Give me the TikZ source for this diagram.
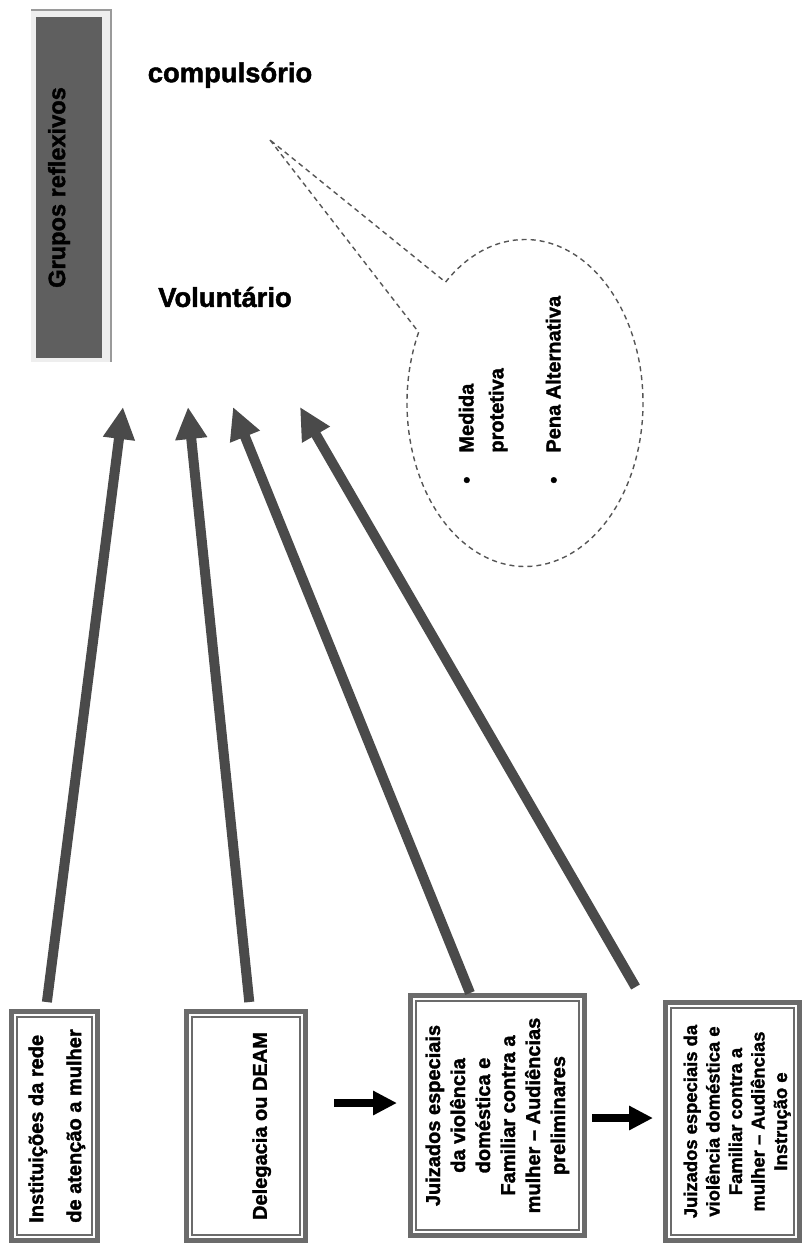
\documentclass[tikz,border=0pt]{standalone}
\usepackage{fontspec}
\setmainfont{Liberation Sans}[BoldFeatures={FakeBold=1.6}]
\usetikzlibrary{arrows.meta,shapes.callouts}

\definecolor{darkfill}{HTML}{5F5F5F}
\definecolor{lightframe}{HTML}{EEEEEE}
\definecolor{shadegray}{HTML}{9A9A9A}
\definecolor{arrowgray}{HTML}{4A4A4A}
\definecolor{boxgray}{HTML}{6B6B6B}
\definecolor{dashgray}{HTML}{555555}

% rotated block of lines: alignment, font size, line skip, lines
\newcommand{\vtext}[4]{\rotatebox{90}{\fontsize{#2}{#3}\selectfont\begin{tabular}{@{}#1@{}}#4\end{tabular}}}

\tikzset{
  casebox/.style={draw=boxgray, line width=2.5pt, fill=white, inner sep=0pt, font=\bfseries},
  bigarrow/.style={arrowgray, line width=5pt, -{Triangle[length=16pt,width=15pt]}},
  smallarrow/.style={black, line width=3.8pt, -{Triangle[length=12pt,width=11.5pt]}},
  heading/.style={font=\fontsize{13.7}{16}\selectfont\bfseries},
  callbubble/.style={ellipse callout, draw=dashgray, line width=0.7pt,
    dash pattern=on 2.5pt off 2pt, minimum width=118pt, minimum height=163.5pt,
    callout pointer arc=22},
}

\begin{document}
\begin{tikzpicture}[x=0.5pt,y=-0.5pt]
\useasboundingbox (0,0) rectangle (804,1245);

% title bar
\fill[lightframe] (31,10) rectangle (111,362);
\draw[shadegray, line width=1pt] (31,10.5) -- (110.5,10.5) -- (110.5,362);
\node[fill=darkfill, minimum width=33pt, minimum height=170.5pt, inner sep=0pt,
  font=\fontsize{11.8}{14}\selectfont\bfseries] (grupos) at (69,187.5)
  {\rotatebox{90}{Grupos reflexivos}\hspace*{10pt}};

\node[heading] (comp) at (230,75) {compulsório};
\node[heading] (volu) at (225,297) {Voluntário};

% callout
\coordinate (ptr) at (270,140);
\node[callbubble, callout absolute pointer={(ptr)}] (cb) at (525,403) {};
\node[inner sep=0pt, anchor=south west, font=\bfseries] (opts) at (452,484)
  {\vtext{l@{\hspace{12pt}}l}{10}{15}{\textbullet & Medida\\ & protetiva\\[13.5pt] \textbullet & Pena Alternativa}};

% boxes
\node[casebox, minimum width=43pt, minimum height=114.5pt] (inst) at (54.5,1126)
  {\vtext{l}{10}{19}{Instituições da rede\\ de atenção a mulher}};
\node[casebox, minimum width=59.5pt, minimum height=114.5pt] (deleg) at (246,1126)
  {\hspace*{16pt}\vtext{c}{10}{12}{Delegacia ou DEAM}};
\node[casebox, minimum width=87pt, minimum height=120pt] (juiz) at (497.5,1115.5)
  {\vtext{c}{10}{12.5}{Juizados especiais\\ da violência\\ doméstica e\\ Familiar contra a\\ mulher – Audiências\\ preliminares}};
\node[casebox, minimum width=67pt, minimum height=119pt] (instr) at (732.5,1121.5)
  {\hspace*{5pt}\vtext{c}{9.2}{11.25}{Juizados especiais da\\ violência doméstica e\\ Familiar contra a\\ mulher – Audiências\\ Instrução e}};
\foreach \b in {inst,deleg,juiz,instr}
  \draw[boxgray, line width=0.7pt] ([shift={(4pt,4pt)}]\b.south west) rectangle ([shift={(-4pt,-4pt)}]\b.north east);

% flow between boxes
\draw[smallarrow, shorten <=13pt, shorten >=5.5pt] ([yshift=11.5pt]deleg.east) -- ([yshift=6.25pt]juiz.west);
\draw[smallarrow, shorten <=2.5pt, shorten >=5pt] ([yshift=-1.25pt]juiz.east) -- ([yshift=1.75pt]instr.west);

% arrows up to the groups
\coordinate (tA) at (123,407);
\coordinate (tB) at (188,407);
\coordinate (tC) at (233,407);
\coordinate (tD) at (300,407);
\draw[bigarrow, shorten <=3.5pt] ([xshift=-4.25pt]inst.north) -- (tA);
\draw[bigarrow, shorten <=3.5pt] ([xshift=2pt]deleg.north) -- (tB);
\draw[bigarrow] ([xshift=-13.75pt]juiz.north) -- (tC);
\draw[bigarrow, shorten <=7.5pt] ([xshift=-44.75pt]instr.north) -- (tD);
\end{tikzpicture}
\end{document}
